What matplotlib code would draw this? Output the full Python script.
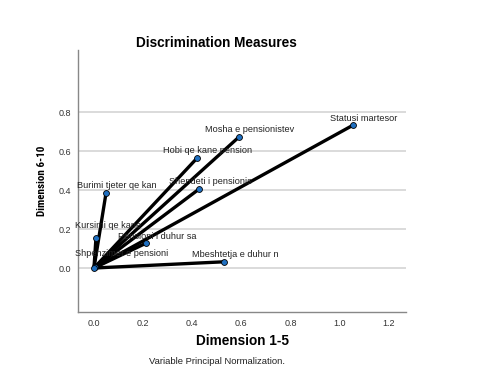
import matplotlib
matplotlib.use("Agg")
import matplotlib.pyplot as plt
from matplotlib import font_manager

labels = ["Statusi martesor", "Mosha e pensionistev", "Hobi qe kane pension",
          "Shendeti i pensionis", "Burimi tjeter qe kan", "Kursimi qe kane",
          "Pensioni i duhur sa", "Shpenzimet e pensioni", "Mbeshtetja e duhur n"]
dim1 = [1.053, 0.589, 0.419, 0.427, 0.049, 0.008, 0.211, 0.004, 0.530]
dim2 = [0.733, 0.672, 0.564, 0.405, 0.385, 0.152, 0.127, 0.004, 0.032]
xticks = [0.0, 0.2, 0.4, 0.6, 0.8, 1.0, 1.2]
yticks = [0.0, 0.2, 0.4, 0.6, 0.8]

plt.rcParams['font.family'] = ['Liberation Sans', 'DejaVu Sans']

names = {f.name for f in font_manager.fontManager.ttflist}
narrow = None
for cand in ['Liberation Sans Narrow', 'DejaVu Sans Condensed', 'Roboto Condensed', 'Open Sans Condensed']:
    if cand in names:
        narrow = cand
        break

fig = plt.figure(figsize=(4.8, 3.73), dpi=100)
ax = fig.add_axes([0.1625, 0.1635, 0.6835, 0.7025])
ax.set_xlim(-0.065, 1.27)
ax.set_ylim(-0.226, 1.12)

for x, y in zip(dim1, dim2):
    ax.plot([0, x], [0, y], color='black', lw=2.4, solid_capstyle='round', zorder=3)
ax.scatter(dim1, dim2, s=18, color='#1f6fc0', edgecolor='black', linewidths=0.6, zorder=4)
ax.scatter([0], [0], s=18, color='#1f6fc0', edgecolor='black', linewidths=0.6, zorder=4)

offsets = {"Shpenzimet e pensioni": (19, 7), "Kursimi qe kane": (9, 6)}
for lab, x, y in zip(labels, dim1, dim2):
    dx, dy = offsets.get(lab, (8, 2))
    ax.annotate(lab, (x, y), xytext=(dx, dy), textcoords='offset points',
                ha='center', va='bottom', fontsize=6.6, color='#222222', zorder=5)

ax.set_xticks(xticks)
ax.set_yticks(yticks)
ax.set_xticklabels([f"{t:.1f}" for t in xticks])
ax.set_yticklabels([f"{t:.1f}" for t in yticks])
ax.tick_params(length=0, labelsize=6.5, colors='#333333', pad=5)
ax.yaxis.grid(True, color='#d4d4d4', lw=1.2)
ax.set_axisbelow(True)
for s in ['top', 'right']:
    ax.spines[s].set_visible(False)
for s in ['left', 'bottom']:
    ax.spines[s].set_color('#888888')
    ax.spines[s].set_linewidth(1.0)

fig.text(216/480, 1 - 43/373, "Discrimination Measures", ha='center', va='center',
         fontsize=9.8, fontweight='bold')
fig.text(243/480, 1 - 341/373, "Dimension 1-5", ha='center', va='center',
         fontsize=9.8, fontweight='bold')
if narrow:
    fig.text(42/480, 1 - 181/373, "Dimension 6-10", ha='center', va='center', rotation=90,
             fontsize=8, fontweight='bold', family=[narrow, 'Liberation Sans'])
else:
    fig.text(42/480, 1 - 181/373, "Dimension 6-10", ha='center', va='center', rotation=90,
             fontsize=7.5, fontweight='bold')
fig.text(217/480, 1 - 362/373, "Variable Principal Normalization.", ha='center', va='center',
         fontsize=6.8, color='#222222')

fig.savefig("out.png", dpi=100)
